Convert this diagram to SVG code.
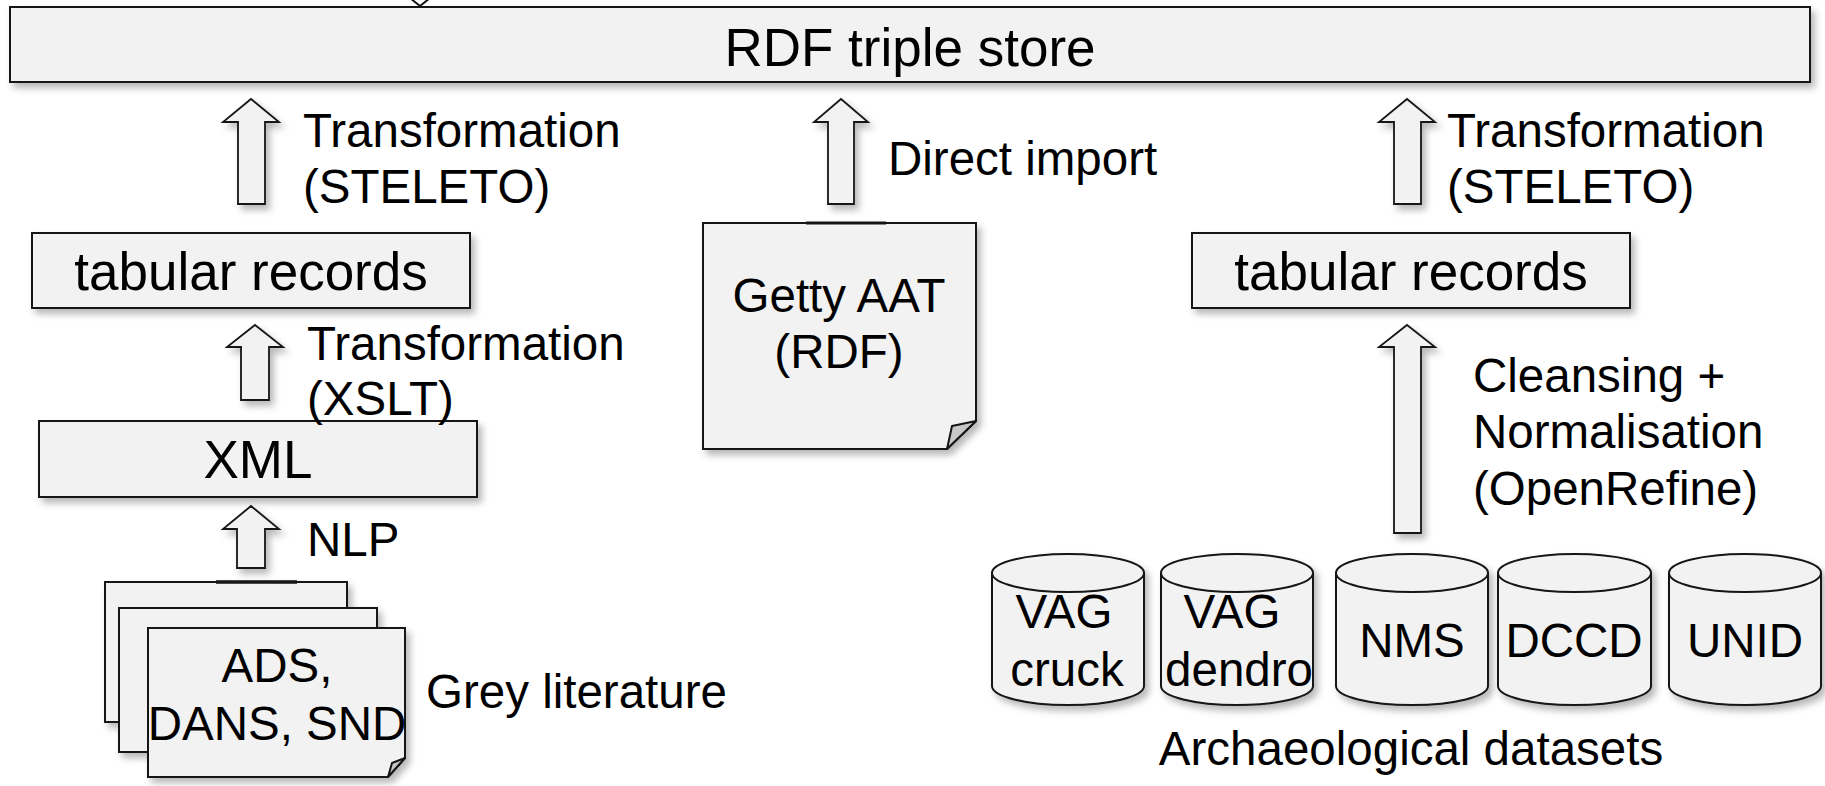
<svg xmlns="http://www.w3.org/2000/svg" width="1825" height="786" viewBox="0 0 1825 786">
  <defs>
    <filter id="sh" x="-10%" y="-10%" width="130%" height="140%">
      <feDropShadow dx="4" dy="5" stdDeviation="3.5" flood-color="#000" flood-opacity="0.28"/>
    </filter>
    <style>
      .n { fill:#f2f2f2; stroke:#141414; stroke-width:2; }
      .a { fill:#f2f2f2; stroke:#141414; stroke-width:1.8; stroke-linejoin:miter; }
      .flap { fill:#c8c8c8; stroke:#141414; stroke-width:2; stroke-linejoin:round; }
      .t { font-family:"Liberation Sans", Arial, sans-serif; fill:#000; }
      .big { font-size:53px; text-anchor:middle; }
      .lbl { font-size:47.5px; }
      .mid { text-anchor:middle; }
    </style>
  </defs>
  <rect width="1825" height="786" fill="#ffffff"/>

  <g id="rdf-store">
    <rect class="n" x="10" y="7" width="1800" height="75" filter="url(#sh)"/>
    <path d="M410,-2 L420,6 L430,-2" fill="none" stroke="#141414" stroke-width="2"/>
    <text class="t big" x="910" y="66" font-size="54">RDF triple store</text>
  </g>

  <g id="tabular-left">
    <rect class="n" x="32" y="233" width="438" height="75" filter="url(#sh)"/>
    <text class="t big" x="251" y="290" font-size="52">tabular records</text>
  </g>

  <g id="xml">
    <rect class="n" x="39" y="421" width="438" height="76" filter="url(#sh)"/>
    <text class="t big" x="258" y="478" font-size="54">XML</text>
  </g>

  <g id="grey-literature">
    <g filter="url(#sh)">
      <rect class="n" x="105" y="582" width="242" height="140"/>
      <line x1="216" y1="582" x2="297" y2="582" stroke="#141414" stroke-width="3.5"/>
      <rect class="n" x="119" y="608" width="258" height="144"/>
      <path class="n" d="M148,628 L405,628 L405,758 L388,777 L148,777 Z"/>
      <path class="flap" d="M405,758 L392,763 L388,777 Z"/>
    </g>
    <text class="t lbl mid" x="277" y="682">ADS,</text>
    <text class="t lbl mid" x="277" y="740">DANS, SND</text>
    <text class="t lbl" x="426" y="708">Grey literature</text>
  </g>

  <g id="getty-aat">
    <g filter="url(#sh)">
      <path class="n" d="M703,223 L976,223 L976,421 L947,449 L703,449 Z"/>
      <path class="flap" d="M976,421 L952,426 L947,449 Z"/>
    </g>
    <line x1="806" y1="223" x2="886" y2="223" stroke="#141414" stroke-width="2.8"/>
    <text class="t lbl mid" x="839" y="312">Getty AAT</text>
    <text class="t lbl mid" x="839" y="368">(RDF)</text>
  </g>

  <g id="tabular-right">
    <rect class="n" x="1192" y="233" width="438" height="75" filter="url(#sh)"/>
    <text class="t big" x="1411" y="290" font-size="52">tabular records</text>
  </g>

  <g id="datasets">
    <g id="vag-cruck">
      <g filter="url(#sh)">
        <path class="n" d="M992,573 A76,19 0 0 1 1144,573 L1144,686 A76,19 0 0 1 992,686 Z"/>
        <path d="M992,573 A76,19 0 0 0 1144,573" fill="none" stroke="#141414" stroke-width="2"/>
      </g>
      <text class="t lbl mid" x="1064" y="628">VAG</text>
      <text class="t lbl mid" x="1067" y="686">cruck</text>
    </g>
    <g id="vag-dendro">
      <g filter="url(#sh)">
        <path class="n" d="M1161,573 A76,19 0 0 1 1313,573 L1313,686 A76,19 0 0 1 1161,686 Z"/>
        <path d="M1161,573 A76,19 0 0 0 1313,573" fill="none" stroke="#141414" stroke-width="2"/>
      </g>
      <text class="t lbl mid" x="1232" y="628">VAG</text>
      <text class="t lbl mid" x="1239" y="686">dendro</text>
    </g>
    <g id="nms">
      <g filter="url(#sh)">
        <path class="n" d="M1336,573 A76,19 0 0 1 1488,573 L1488,686 A76,19 0 0 1 1336,686 Z"/>
        <path d="M1336,573 A76,19 0 0 0 1488,573" fill="none" stroke="#141414" stroke-width="2"/>
      </g>
      <text class="t lbl mid" x="1412" y="657">NMS</text>
    </g>
    <g id="dccd">
      <g filter="url(#sh)">
        <path class="n" d="M1498,573 A76.5,19 0 0 1 1651,573 L1651,686 A76.5,19 0 0 1 1498,686 Z"/>
        <path d="M1498,573 A76.5,19 0 0 0 1651,573" fill="none" stroke="#141414" stroke-width="2"/>
      </g>
      <text class="t lbl mid" x="1574" y="657">DCCD</text>
    </g>
    <g id="unid">
      <g filter="url(#sh)">
        <path class="n" d="M1669,573 A76,19 0 0 1 1821,573 L1821,686 A76,19 0 0 1 1669,686 Z"/>
        <path d="M1669,573 A76,19 0 0 0 1821,573" fill="none" stroke="#141414" stroke-width="2"/>
      </g>
      <text class="t lbl mid" x="1745" y="657">UNID</text>
    </g>
    <text class="t lbl mid" x="1411" y="765">Archaeological datasets</text>
  </g>

  <g id="connectors">
    <g filter="url(#sh)">
      <path class="a" d="M251,99 L279,122 L265,122 L265,204 L238,204 L238,122 L223,122 Z"/>
      <path class="a" d="M255,325 L283,347 L269,347 L269,400 L241,400 L241,347 L227,347 Z"/>
      <path class="a" d="M251,506 L279,529 L265,529 L265,568 L237,568 L237,529 L223,529 Z"/>
      <path class="a" d="M841,99 L868,122 L854,122 L854,204 L828,204 L828,122 L814,122 Z"/>
      <path class="a" d="M1407,99 L1435,122 L1421,122 L1421,204 L1394,204 L1394,122 L1379,122 Z"/>
      <path class="a" d="M1407,325 L1435,347 L1421,347 L1421,533 L1394,533 L1394,347 L1379,347 Z"/>
    </g>
    <text class="t lbl" x="303" y="147">Transformation</text>
    <text class="t lbl" x="303" y="203">(STELETO)</text>
    <text class="t lbl" x="307" y="360">Transformation</text>
    <text class="t lbl" x="307" y="415">(XSLT)</text>
    <text class="t lbl" x="307" y="556">NLP</text>
    <text class="t lbl" x="888" y="175">Direct import</text>
    <text class="t lbl" x="1447" y="147">Transformation</text>
    <text class="t lbl" x="1447" y="203">(STELETO)</text>
    <text class="t lbl" x="1473" y="392">Cleansing +</text>
    <text class="t lbl" x="1473" y="448">Normalisation</text>
    <text class="t lbl" x="1473" y="505">(OpenRefine)</text>
  </g>
</svg>
